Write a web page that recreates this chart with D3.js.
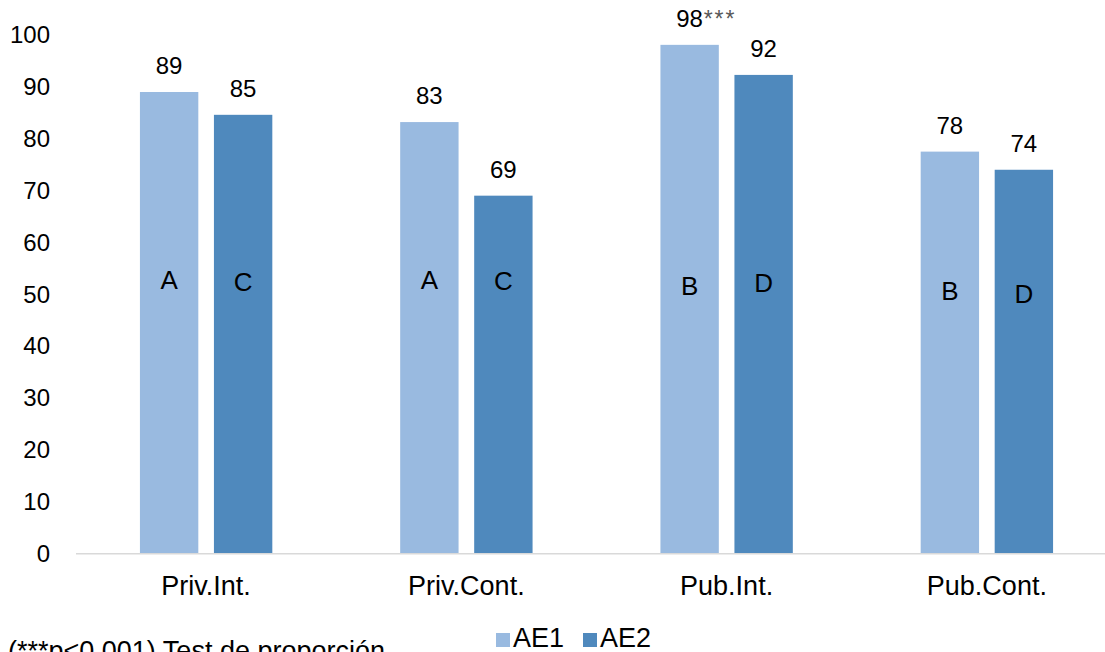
<!DOCTYPE html>
<html>
<head>
<meta charset="utf-8">
<script src="https://cdn.jsdelivr.net/npm/d3@7"></script>
<style>
  body { margin: 0; background: #fff; }
  svg { display: block; font-family: "Liberation Sans", Arial, sans-serif; }
</style>
</head>
<body>
<div id="chart"></div>
<script>
// categories and series
const categories = ["Priv.Int.", "Priv.Cont.", "Pub.Int.", "Pub.Cont."];
const seriesNames = ["AE1", "AE2"];
const valuesAE1 = [89.0, 83.2, 98.1, 77.5];
const valuesAE2 = [84.6, 69.0, 92.3, 74.0];
const labelsAE1 = ["89", "83", "98", "78"];
const labelsAE2 = ["85", "69", "92", "74"];
const sigAE1 = ["", "", "***", ""];
// group letters and where they sit (in axis units)
const lettersAE1 = ["A", "A", "B", "B"];
const lettersAE2 = ["C", "C", "D", "D"];
const letterPosAE1 = [52.7, 52.7, 51.6, 50.7];
const letterPosAE2 = [52.3, 52.5, 52.2, 50.1];
const yTicks = [0, 10, 20, 30, 40, 50, 60, 70, 80, 90, 100];
const footnote = "(***p<0.001) Test de proporción";

const colors = { AE1: "#99BAE0", AE2: "#4F89BD" };

const width = 1105;
const height = 652;

const svg = d3.select("#chart")
    .append("svg")
    .attr("width", width)
    .attr("height", height);

const y = d3.scaleLinear().domain([0, 100]).range([553.3, 35]);

const x0 = d3.scaleBand()
    .domain(categories)
    .range([76, 1117]);

const x1 = d3.scaleBand()
    .domain(seriesNames)
    .range([0, x0.bandwidth()])
    .paddingInner(0.211)
    .paddingOuter(0.864);

const rows = categories.map((c, i) => ({
    cat: c,
    bars: [
        { s: "AE1", v: valuesAE1[i], lab: labelsAE1[i], sig: sigAE1[i], letter: lettersAE1[i], ly: letterPosAE1[i] },
        { s: "AE2", v: valuesAE2[i], lab: labelsAE2[i], sig: "", letter: lettersAE2[i], ly: letterPosAE2[i] }
    ]
}));

// y tick labels (no axis line)
svg.append("g")
    .selectAll("text")
    .data(yTicks)
    .join("text")
    .attr("x", 50)
    .attr("y", d => y(d))
    .attr("dy", "0.35em")
    .attr("text-anchor", "end")
    .attr("font-size", 24)
    .attr("fill", "#000")
    .text(d => d);

const groups = svg.append("g")
    .selectAll("g")
    .data(rows)
    .join("g")
    .attr("transform", d => `translate(${x0(d.cat)},0)`);

groups.selectAll("rect")
    .data(d => d.bars)
    .join("rect")
    .attr("x", d => x1(d.s))
    .attr("y", d => y(d.v))
    .attr("width", x1.bandwidth())
    .attr("height", d => y(0) - y(d.v))
    .attr("fill", d => colors[d.s]);

// value labels
groups.selectAll("text.val")
    .data(d => d.bars)
    .join("text")
    .attr("class", "val")
    .attr("x", d => x1(d.s) + x1.bandwidth() / 2)
    .attr("y", d => y(d.v) - 18)
    .attr("text-anchor", "middle")
    .attr("font-size", 24)
    .attr("fill", "#000")
    .text(d => d.lab);

// significance stars
groups.selectAll("text.sig")
    .data(d => d.bars.filter(b => b.sig))
    .join("text")
    .attr("class", "sig")
    .attr("x", d => x1(d.s) + x1.bandwidth() / 2 + 14)
    .attr("y", 27)
    .attr("font-size", 23)
    .attr("letter-spacing", 2)
    .attr("fill", "#595959")
    .text(d => d.sig);

// letters inside bars
groups.selectAll("text.letter")
    .data(d => d.bars)
    .join("text")
    .attr("class", "letter")
    .attr("x", d => x1(d.s) + x1.bandwidth() / 2)
    .attr("y", d => y(d.ly))
    .attr("dy", "0.35em")
    .attr("text-anchor", "middle")
    .attr("font-size", 26)
    .attr("fill", "#000")
    .text(d => d.letter);

// baseline
svg.append("line")
    .attr("x1", 76)
    .attr("x2", 1117)
    .attr("y1", y(0) + 0.5)
    .attr("y2", y(0) + 0.5)
    .attr("stroke", "#D9D9D9")
    .attr("stroke-width", 1.5);

// category labels
svg.append("g")
    .selectAll("text")
    .data(categories)
    .join("text")
    .attr("x", d => x0(d) + x0.bandwidth() / 2)
    .attr("y", 595)
    .attr("text-anchor", "middle")
    .attr("font-size", 27)
    .attr("fill", "#000")
    .text(d => d);

// legend
const legend = svg.append("g")
    .selectAll("g")
    .data(seriesNames)
    .join("g")
    .attr("transform", (d, i) => `translate(${496 + i * 87},0)`);

legend.append("rect")
    .attr("x", 0)
    .attr("y", 633)
    .attr("width", 14)
    .attr("height", 14)
    .attr("fill", d => colors[d]);

legend.append("text")
    .attr("x", 17)
    .attr("y", 647)
    .attr("font-size", 27)
    .attr("fill", "#000")
    .text(d => d);

// footnote (cut by the bottom edge, as in the source)
svg.append("text")
    .attr("x", 8)
    .attr("y", 660)
    .attr("font-size", 27)
    .attr("fill", "#000")
    .text(footnote);
</script>
</body>
</html>
